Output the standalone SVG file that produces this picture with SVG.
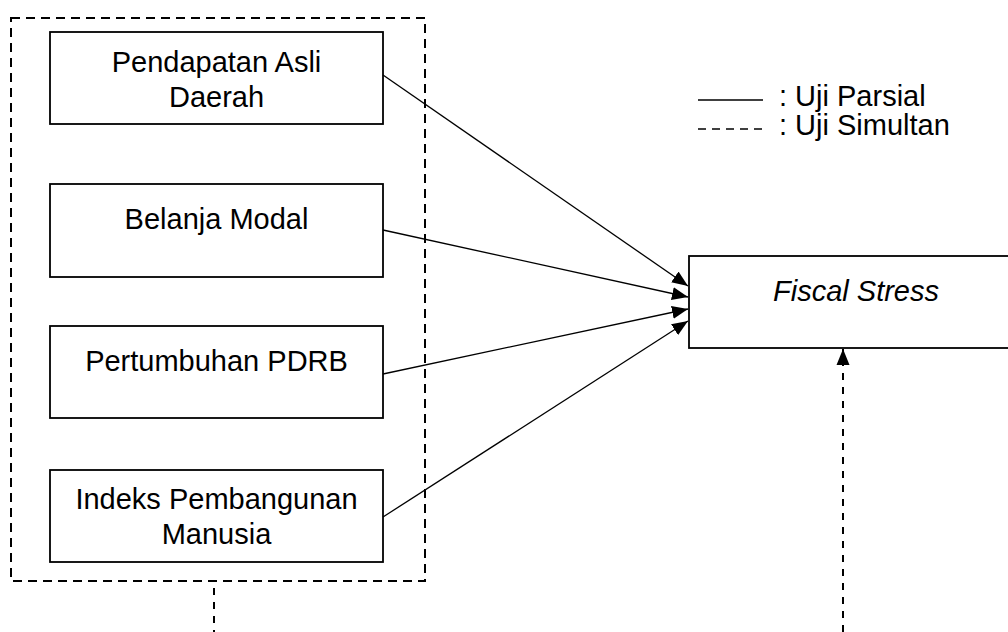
<svg xmlns="http://www.w3.org/2000/svg" width="1008" height="632" viewBox="0 0 1008 632">
<style>
.box{fill:#fff;stroke:#000;stroke-width:1.8}
.t{font-family:"Liberation Sans",Arial,sans-serif;font-size:29px;fill:#000;text-anchor:middle}
.lt{font-family:"Liberation Sans",Arial,sans-serif;font-size:29px;fill:#000}
.c{stroke:#000;stroke-width:1.3;fill:none}
.d{stroke:#000;stroke-width:2;fill:none;stroke-dasharray:7,7}
</style>
<defs>
<marker id="ah" markerUnits="userSpaceOnUse" markerWidth="17" markerHeight="14" refX="16" refY="7" orient="auto">
<path d="M0,0.5 L16,7 L0,13.5 z" fill="#000"/>
</marker>
</defs>
<rect id="group-box" x="11" y="18" width="414" height="563" fill="none" stroke="#000" stroke-width="2" stroke-dasharray="9,6"/>
<g id="pad">
<rect class="box" x="50" y="32" width="333" height="92"/>
<text class="t" x="216.5" y="72">Pendapatan Asli</text>
<text class="t" x="216.5" y="107">Daerah</text>
</g>
<g id="belanja">
<rect class="box" x="50" y="184" width="333" height="93"/>
<text class="t" x="216.5" y="229">Belanja Modal</text>
</g>
<g id="pdrb">
<rect class="box" x="50" y="326" width="333" height="92"/>
<text class="t" x="216.5" y="371">Pertumbuhan PDRB</text>
</g>
<g id="ipm">
<rect class="box" x="50" y="470" width="333" height="92"/>
<text class="t" x="216.5" y="509">Indeks Pembangunan</text>
<text class="t" x="216.5" y="544">Manusia</text>
</g>
<g id="fiscal">
<rect class="box" x="689" y="256" width="335" height="92"/>
<text class="t" x="856" y="301" font-style="italic">Fiscal Stress</text>
</g>
<g id="connectors">
<line class="c" x1="383" y1="75" x2="688" y2="286" marker-end="url(#ah)"/>
<line class="c" x1="383" y1="230" x2="688" y2="297" marker-end="url(#ah)"/>
<line class="c" x1="383" y1="374" x2="688" y2="309" marker-end="url(#ah)"/>
<line class="c" x1="383" y1="517" x2="688" y2="321" marker-end="url(#ah)"/>
<line class="d" x1="214" y1="588" x2="214" y2="632"/>
<line class="d" x1="843" y1="632" x2="843" y2="349" marker-end="url(#ah)"/>
</g>
<g id="legend">
<line x1="698" y1="100" x2="763" y2="100" stroke="#000" stroke-width="1.3"/>
<text class="lt" x="779" y="106">: Uji Parsial</text>
<line x1="698" y1="129" x2="763" y2="129" stroke="#000" stroke-width="1.3" stroke-dasharray="8,6"/>
<text class="lt" x="779" y="135">: Uji Simultan</text>
</g>
</svg>
